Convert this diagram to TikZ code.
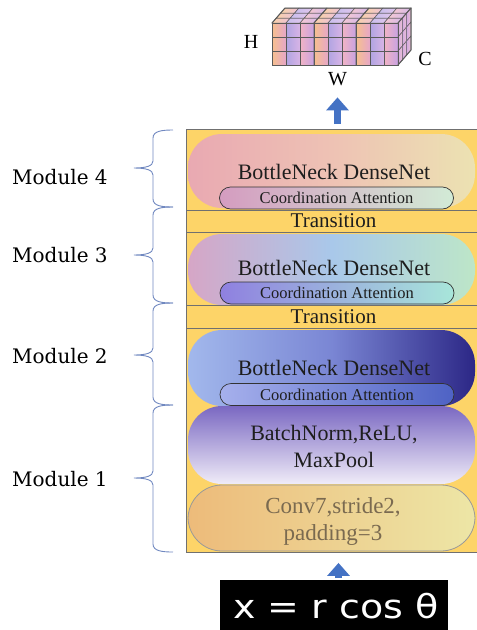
\documentclass[tikz,border=0pt]{standalone}
\usepackage{fontspec}
\setmainfont{Liberation Serif}
\newfontfamily\modfont{DejaVu Serif}
\newfontfamily\eqfont{DejaVu Sans}
\usetikzlibrary{arrows.meta,calc}

% palette
\definecolor{panelgold}{HTML}{FDD468}
\definecolor{panelline}{HTML}{707070}
\definecolor{bracecol}{HTML}{7088C0}
\definecolor{arrowblue}{HTML}{4472C4}
\definecolor{inktext}{HTML}{1E1E1E}
\definecolor{convtext}{HTML}{7A6A50}
\definecolor{cubeline}{HTML}{5A5A5A}
% capsule gradients
\definecolor{mfourL}{HTML}{E9A9B2}\definecolor{mfourM}{HTML}{EEC2B4}\definecolor{mfourR}{HTML}{ECE2B2}
\definecolor{cafourL}{HTML}{D49CC0}\definecolor{cafourR}{HTML}{D2EBD6}
\definecolor{mthreeL}{HTML}{D6A6C6}\definecolor{mthreeM}{HTML}{A9C8EA}\definecolor{mthreeR}{HTML}{BDE6C8}
\definecolor{cathreeL}{HTML}{8F80E0}\definecolor{cathreeR}{HTML}{A8E6DA}
\definecolor{mtwoL}{HTML}{A2B8EC}\definecolor{mtwoM}{HTML}{7A86D4}\definecolor{mtwoR}{HTML}{2C2786}
\definecolor{catwoL}{HTML}{A6B0EC}\definecolor{catwoR}{HTML}{4E62C4}
\definecolor{bnTop}{HTML}{7A68C2}\definecolor{bnBot}{HTML}{F0ECF8}
\definecolor{convL}{HTML}{EDBB7A}\definecolor{convR}{HTML}{EDE6A6}
% cube cell colours (front / top / side), by column within a group
\definecolor{fL0}{HTML}{F6C08E}\definecolor{fR0}{HTML}{E6A6C8}
\definecolor{fL1}{HTML}{B0A4E2}\definecolor{fR1}{HTML}{D8B4E6}
\definecolor{fL2}{HTML}{F2B4C4}\definecolor{fR2}{HTML}{C8A2E2}
\definecolor{tL0}{HTML}{F8D2A8}\definecolor{tR0}{HTML}{EEC0D8}
\definecolor{tL1}{HTML}{C8BEEC}\definecolor{tR1}{HTML}{E2C6EE}
\definecolor{tL2}{HTML}{F4C8D2}\definecolor{tR2}{HTML}{D6B8EA}
\definecolor{sL}{HTML}{D4AAE2}\definecolor{sR}{HTML}{ECC2D2}

\tikzset{
  capsule/.style={inner sep=0pt, rounded corners=34pt, minimum width=287pt},
  cabox/.style={draw=black!80, line width=0.7pt, rounded corners=11pt,
    minimum width=234pt, minimum height=22pt, inner sep=0pt,
    font=\fontsize{16.5}{18}\selectfont, text=inktext},
  bigtxt/.style={inner sep=0pt, text=inktext, font=\fontsize{22}{27}\selectfont, align=center},
  transtxt/.style={inner sep=0pt, text=inktext, font=\fontsize{21}{24}\selectfont},
  sepline/.style={draw=panelline, line width=0.9pt},
  modlabel/.style={inner sep=0pt, anchor=west, text=black,
    font=\modfont\fontsize{20}{22}\selectfont},
  bracestyle/.style={draw=bracecol, line width=0.9pt},
  axislabel/.style={inner sep=0pt, font=\fontsize{20}{22}\selectfont},
  blockarrow/.style={draw=arrowblue, line width=7.5pt,
    -{Triangle[length=13pt,width=22pt]}},
  cellline/.style={draw=cubeline, line width=0.5pt}
}

% curly brace with its tip to the left: top y, tip y, bottom y
\newcommand\ModBrace[3]{%
  \draw[bracestyle] (173,#1) .. controls (162,#1) and (153,#1+1) .. (153,#1+8)
    -- (153,#2-7) .. controls (153,#2-2) and (146,#2) .. (134,#2)
    .. controls (146,#2) and (153,#2+2) .. (153,#2+7)
    -- (153,#3-8) .. controls (153,#3-1) and (162,#3) .. (173,#3);}

\begin{document}
\begin{tikzpicture}[x=1pt,y=-1pt]
\useasboundingbox (0,0) rectangle (477,630);

% ---------- output feature block (H x W x C) ----------
\foreach \i in {0,...,8}{
  \pgfmathtruncatemacro\m{mod(\i,3)}
  \foreach \k in {0,1,2}{
    \shade[left color=tL\m, right color=tR\m, cellline]
      (272+14*\i+4.33*\k, 23-5*\k) -- ++(14,0) -- ++(4.33,-5) -- ++(-14,0) -- cycle;
  }
  \foreach \j in {0,1,2}{
    \shade[left color=fL\m, right color=fR\m, cellline]
      (272+14*\i, 23+14*\j) rectangle ++(14,14);
  }
}
\foreach \k in {0,1,2}{
  \foreach \j in {0,1,2}{
    \shade[left color=sL, right color=sR, cellline]
      (398+4.33*\k, 23+14*\j-5*\k) -- ++(4.33,-5) -- ++(0,14) -- ++(-4.33,5) -- cycle;
  }
}
% block outline and group dividers
\draw[cubeline, line width=1pt] (272,23) rectangle (398,65);
\draw[cubeline, line width=1pt] (272,23) -- (285,8) -- (411,8) -- (411,50) -- (398,65);
\draw[cubeline, line width=1pt] (398,23) -- (411,8);
\draw[cubeline, line width=1pt] (314,23) -- (314,65) (356,23) -- (356,65)
  (314,23) -- (327,8) (356,23) -- (369,8);

\node[axislabel] (H) at (251,42) {H};
\node[axislabel] (C) at (425,59) {C};
\node[axislabel] (W) at (337.5,79.5) {W};

% ---------- network panel ----------
\node[draw=panelline, line width=0.9pt, fill=panelgold, anchor=north west,
  minimum width=293pt, minimum height=423pt, inner sep=0pt] (panel) at (186,129) {};

% module 4
\node[capsule, minimum height=74pt, left color=mfourL, right color=mfourR,
  middle color=mfourM] (mfour) at (331.5,171) {};
\node[bigtxt] (bnfour) at (334,172) {BottleNeck DenseNet};
\node[cabox, left color=cafourL, right color=cafourR] (cafour) at (336.5,198) {Coordination Attention};
\draw[sepline] (186,210) -- (477,210);
\node[transtxt] (trone) at (333.5,221) {Transition};
\draw[sepline] (186,232) -- (477,232);

% module 3
\node[capsule, minimum height=71pt, left color=mthreeL, right color=mthreeR,
  middle color=mthreeM] (mthree) at (331.5,269.5) {};
\node[bigtxt] (bnthree) at (334,268) {BottleNeck DenseNet};
\node[cabox, left color=cathreeL, right color=cathreeR] (cathree) at (337,293) {Coordination Attention};
\draw[sepline] (186,305) -- (477,305);
\node[transtxt] (trtwo) at (333.5,317) {Transition};
\draw[sepline] (186,328) -- (477,328);

% module 2
\node[capsule, minimum height=76pt, left color=mtwoL, right color=mtwoR,
  middle color=mtwoM] (mtwo) at (331.5,368) {};
\node[bigtxt] (bntwo) at (334,368) {BottleNeck DenseNet};
\node[cabox, left color=catwoL, right color=catwoR] (catwo) at (337,394.5) {Coordination Attention};

% module 1
\node[capsule, minimum height=78pt, top color=bnTop, bottom color=bnBot] (bn) at (331.5,445) {};
\node[bigtxt] (bntxt) at (334,446.5) {BatchNorm,ReLU,\\MaxPool};
\node[capsule, minimum height=66pt, draw=gray!80, line width=0.8pt,
  left color=convL, right color=convR] (conv) at (331.5,518) {};
\node[bigtxt, text=convtext, font=\fontsize{23}{27}\selectfont] (convtxt) at (333,521.5)
  {Conv7,stride2,\\padding=3};

% ---------- module labels and braces ----------
\node[modlabel] (lfour) at (12,177) {Module 4};
\node[modlabel] (lthree) at (12,255) {Module 3};
\node[modlabel] (ltwo) at (12,356) {Module 2};
\node[modlabel] (lone) at (12,479) {Module 1};
\ModBrace{130}{168}{207}
\ModBrace{207}{255}{303}
\ModBrace{303}{355}{405}
\ModBrace{405}{478}{552}

% ---------- input ----------
\node[fill=black, minimum width=228pt, minimum height=60pt, inner sep=0pt, anchor=north]
  (eq) at (334,580) {};
\node[text=white, inner sep=0pt, font=\eqfont\fontsize{33}{36}\selectfont]
  (eqtxt) at (336,606) {\scalebox{1.15}[1]{x = r cos θ}};

% ---------- arrows ----------
\draw[blockarrow, shorten <=2pt, shorten >=10pt]
  ([xshift=4.5pt]eq.north) -- ([xshift=4.5pt]eq.north |- panel.south);
\draw[blockarrow, shorten <=5pt, shorten >=11pt]
  (panel.north -| W) -- (W);
\end{tikzpicture}
\end{document}
